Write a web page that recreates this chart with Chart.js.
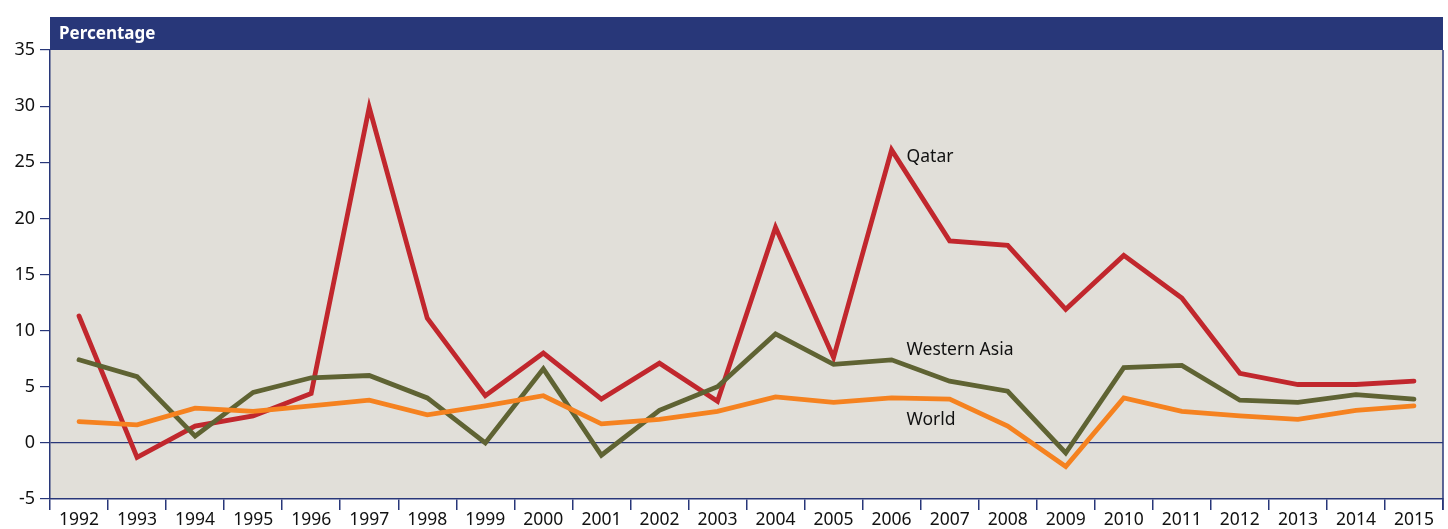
<!DOCTYPE html>
<html lang="en">
<head>
  <meta charset="UTF-8">
  <title>Percentage</title>
  <script src="https://cdn.jsdelivr.net/npm/chart.js"></script>
  <style>
    html, body { margin: 0; padding: 0; background: #fff; }
    #wrap { width: 1448px; height: 529px; }
  </style>
</head>
<body>
  <div id="wrap"><canvas id="growthChart" width="1448" height="529"></canvas></div>

  <script>
    const years = ['1992','1993','1994','1995','1996','1997','1998','1999','2000','2001','2002','2003',
                   '2004','2005','2006','2007','2008','2009','2010','2011','2012','2013','2014','2015'];
    const qatar = [11.3, -1.3, 1.5, 2.4, 4.4, 29.9, 11.1, 4.2, 8.0, 3.9, 7.1, 3.7,
                   19.2, 7.6, 26.1, 18.0, 17.6, 11.9, 16.7, 12.9, 6.2, 5.2, 5.2, 5.5];
    const westernAsia = [7.4, 5.9, 0.6, 4.5, 5.8, 6.0, 4.0, 0.0, 6.6, -1.1, 2.9, 5.0,
                         9.7, 7.0, 7.4, 5.5, 4.6, -0.9, 6.7, 6.9, 3.8, 3.6, 4.3, 3.9];
    const world = [1.9, 1.6, 3.1, 2.8, 3.3, 3.8, 2.5, 3.3, 4.2, 1.7, 2.1, 2.8,
                   4.1, 3.6, 4.0, 3.9, 1.5, -2.1, 4.0, 2.8, 2.4, 2.1, 2.9, 3.3];
    const yTicks = [-5, 0, 5, 10, 15, 20, 25, 30, 35];

    const navy = '#283779';
    const fontFamily = '"Noto Sans", sans-serif';

    // header band, right border and series labels
    const decor = {
      id: 'decor',
      beforeDraw(chart) {
        const { ctx, chartArea: a } = chart;
        ctx.save();
        ctx.fillStyle = '#e1dfd9';
        ctx.fillRect(a.left, a.top, a.right - a.left, a.bottom - a.top);
        ctx.fillStyle = navy;
        ctx.fillRect(a.left, a.top - 33, a.right - a.left, 33);
        ctx.fillStyle = '#fff';
        ctx.font = 'bold 17px ' + fontFamily;
        ctx.textBaseline = 'middle';
        ctx.fillText('Percentage', a.left + 9, a.top - 16);
        ctx.restore();
      },
      afterDraw(chart) {
        const { ctx, chartArea: a, scales } = chart;
        ctx.save();
        ctx.strokeStyle = navy;
        ctx.lineWidth = 1.5;
        ctx.beginPath();
        ctx.moveTo(a.right, a.top);
        ctx.lineTo(a.right, a.bottom + 11);
        ctx.stroke();
        ctx.fillStyle = '#111';
        ctx.font = '17.5px ' + fontFamily;
        ctx.textBaseline = 'middle';
        const x = scales.x.getPixelForValue(14) + 15;
        ctx.fillText('Qatar', x, scales.y.getPixelForValue(25.5));
        ctx.fillText('Western Asia', x, scales.y.getPixelForValue(8.3));
        ctx.fillText('World', x, scales.y.getPixelForValue(2.0));
        ctx.restore();
      }
    };

    const lineStyle = { borderWidth: 4.8, pointRadius: 0, tension: 0, borderJoinStyle: 'miter', borderCapStyle: 'round' };

    new Chart(document.getElementById('growthChart'), {
      type: 'line',
      data: {
        labels: years,
        datasets: [
          { label: 'World', data: world, borderColor: '#f58220', ...lineStyle },
          { label: 'Western Asia', data: westernAsia, borderColor: '#5f6333', ...lineStyle },
          { label: 'Qatar', data: qatar, borderColor: '#c1272d', ...lineStyle }
        ]
      },
      options: {
        responsive: false,
        animation: false,
        layout: { padding: { top: 50, right: 5, left: 0, bottom: 0 } },
        plugins: { legend: { display: false }, tooltip: { enabled: false } },
        scales: {
          x: {
            offset: true,
            grid: { offset: true, drawOnChartArea: false, tickLength: 11, color: navy, lineWidth: 1.5 },
            border: { color: navy, width: 1.5 },
            ticks: { color: '#111', font: { size: 17.5, family: fontFamily }, padding: 0, maxRotation: 0 },
            afterFit(s) { s.height = 30; }
          },
          y: {
            min: -5,
            max: 35,
            afterBuildTicks(s) { s.ticks = yTicks.map(v => ({ value: v })); },
            grid: {
              drawOnChartArea: true,
              tickLength: 10,
              color: c => (c.tick && c.tick.value === 0 ? navy : 'transparent'),
              tickColor: navy,
              lineWidth: 1.2
            },
            border: { color: navy, width: 1.5 },
            ticks: { color: '#111', font: { size: 18, family: fontFamily }, padding: 5 },
            afterFit(s) { s.width = 50; }
          }
        }
      },
      plugins: [decor]
    });
  </script>
</body>
</html>
